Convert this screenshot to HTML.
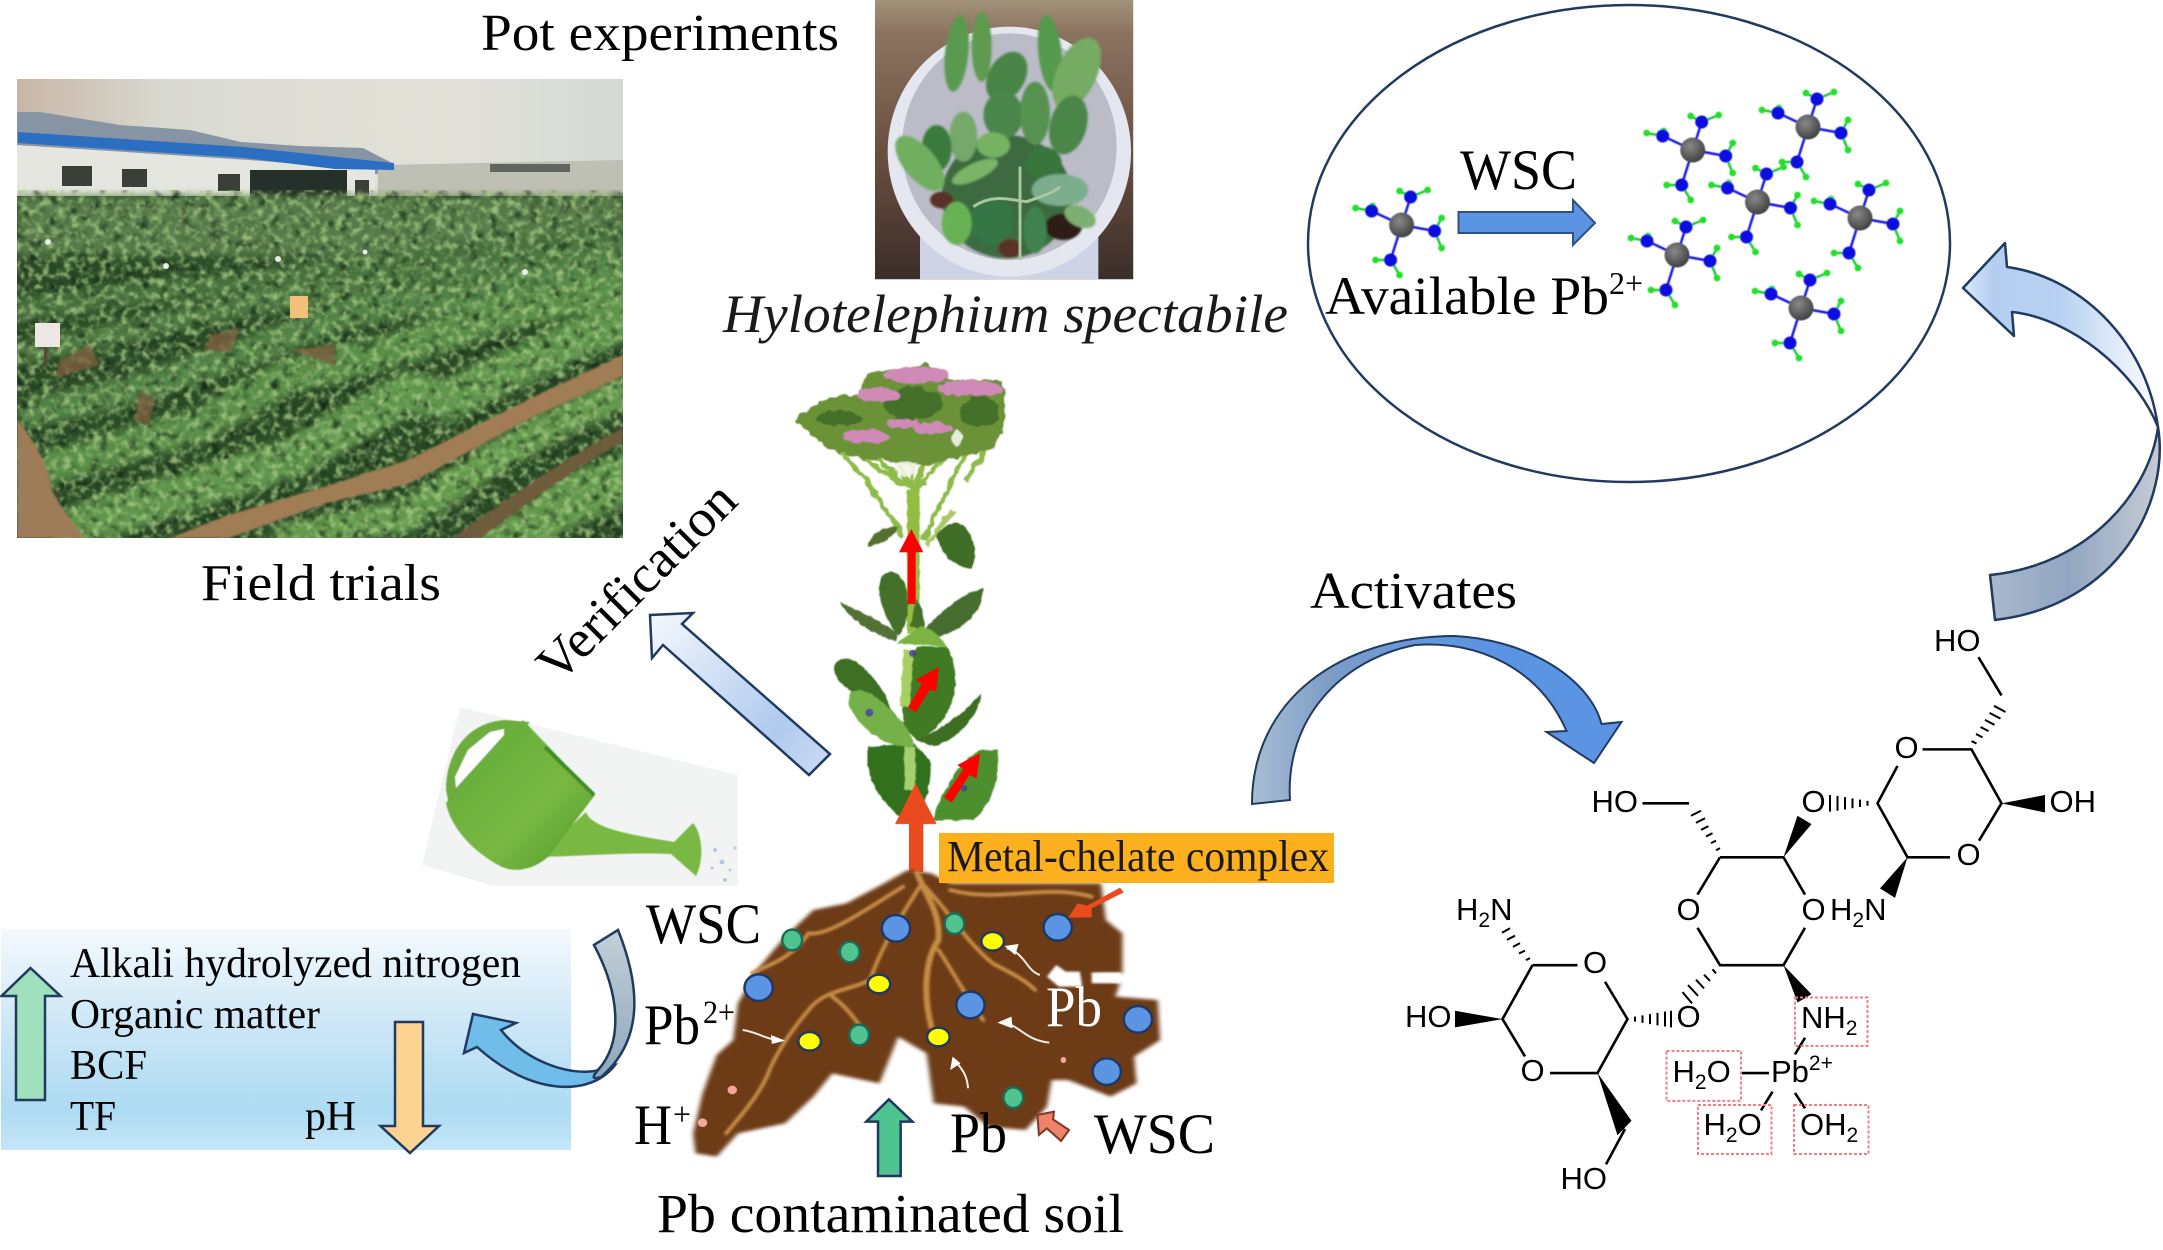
<!DOCTYPE html>
<html><head><meta charset="utf-8"><style>
html,body{margin:0;padding:0;background:#fff}
svg{display:block}
text{font-family:"Liberation Serif",serif;fill:#000}
.m text,text.m{font-family:"Liberation Sans",sans-serif;font-size:31px}
.n *{vector-effect:non-scaling-stroke}
</style></head><body>
<svg width="2163" height="1250" viewBox="0 0 2163 1250" xmlns="http://www.w3.org/2000/svg">
<defs>
<filter id="nl" filterUnits="userSpaceOnUse" x="17" y="190" width="606" height="348" color-interpolation-filters="sRGB">
<feTurbulence type="fractalNoise" baseFrequency="0.14" numOctaves="3" seed="7"/>
<feColorMatrix values="0 0 0 0 .66  0 0 0 0 .8  0 0 0 0 .52  3.2 0 0 0 -1.45"/>
<feGaussianBlur stdDeviation=".7"/>
</filter>
<filter id="nd" filterUnits="userSpaceOnUse" x="17" y="190" width="606" height="348" color-interpolation-filters="sRGB">
<feTurbulence type="fractalNoise" baseFrequency="0.1" numOctaves="2" seed="21"/>
<feColorMatrix values="0 0 0 0 .05  0 0 0 0 .12  0 0 0 0 .06  -3.2 0 0 0 1.5"/>
<feGaussianBlur stdDeviation="1"/>
</filter>
<filter id="rows" filterUnits="userSpaceOnUse" x="0" y="170" width="640" height="380"><feGaussianBlur stdDeviation="4"/></filter>
<filter id="b05"><feGaussianBlur stdDeviation=".45"/></filter>
<filter id="b1"><feGaussianBlur stdDeviation="1"/></filter>
<filter id="b2"><feGaussianBlur stdDeviation="5"/></filter>
<filter id="b3"><feGaussianBlur stdDeviation="3"/></filter>
<filter id="rough" x="-5%" y="-5%" width="110%" height="110%">
<feTurbulence type="fractalNoise" baseFrequency="0.035" numOctaves="2" seed="3" result="t"/>
<feDisplacementMap in="SourceGraphic" in2="t" scale="22" xChannelSelector="R" yChannelSelector="G"/>
<feGaussianBlur stdDeviation="1.8"/>
</filter>
<filter id="rough2" x="-5%" y="-5%" width="110%" height="110%">
<feTurbulence type="fractalNoise" baseFrequency="0.05" numOctaves="2" seed="9" result="t"/>
<feDisplacementMap in="SourceGraphic" in2="t" scale="9" xChannelSelector="R" yChannelSelector="G"/>
<feGaussianBlur stdDeviation="1.2"/>
</filter>
<linearGradient id="sky" x1="0" x2="1" y1="0" y2="0"><stop offset="0" stop-color="#c7b6a6"/><stop offset=".25" stop-color="#d9dad2"/><stop offset=".7" stop-color="#e2e1d8"/><stop offset="1" stop-color="#d5d9d6"/></linearGradient>
<linearGradient id="box" x1="0" x2="0" y1="0" y2="1"><stop offset="0" stop-color="#f4f9fd"/><stop offset=".45" stop-color="#cbe6f6"/><stop offset=".82" stop-color="#addbf3"/><stop offset="1" stop-color="#c6e6f7"/></linearGradient>
<linearGradient id="ver" x1="650" y1="615" x2="820" y2="765" gradientUnits="userSpaceOnUse"><stop offset="0" stop-color="#f4f8fe"/><stop offset=".75" stop-color="#b0caee"/><stop offset="1" stop-color="#c6d9f3"/></linearGradient>
<linearGradient id="u1" x1="1963" x2="2160" y1="0" y2="0" gradientUnits="userSpaceOnUse"><stop offset="0" stop-color="#dce8f8"/><stop offset=".15" stop-color="#b4cef2"/><stop offset=".5" stop-color="#b8d1f2"/><stop offset="1" stop-color="#ffffff"/></linearGradient>
<linearGradient id="u2" x1="2163" y1="0" x2="1990" y2="0" gradientUnits="userSpaceOnUse"><stop offset="0" stop-color="#c8ccd4"/><stop offset=".55" stop-color="#91a6c2"/><stop offset="1" stop-color="#a9b8cc"/></linearGradient>
<linearGradient id="act" x1="1252" x2="1480" y1="0" y2="0" gradientUnits="userSpaceOnUse"><stop offset="0" stop-color="#a9bdd3"/><stop offset=".35" stop-color="#7b9cc7"/><stop offset="1" stop-color="#5b94e3"/></linearGradient>
<linearGradient id="gr1" x1="0" x2="0" y1="930" y2="1075" gradientUnits="userSpaceOnUse"><stop offset="0" stop-color="#c4cfd8"/><stop offset="1" stop-color="#8ea9bc"/></linearGradient>
<radialGradient id="ball" cx=".4" cy=".35" r=".7"><stop offset="0" stop-color="#8a8a8a"/><stop offset="1" stop-color="#3c3c3c"/></radialGradient>
<linearGradient id="can" x1="0" x2="1" y1="0" y2="1"><stop offset="0" stop-color="#5da838"/><stop offset=".6" stop-color="#79b842"/><stop offset="1" stop-color="#4f9a2c"/></linearGradient>
<linearGradient id="pot" x1="0" x2="0" y1="0" y2="1"><stop offset="0" stop-color="#a3927a"/><stop offset=".12" stop-color="#8c7360"/><stop offset=".55" stop-color="#6a4f40"/><stop offset="1" stop-color="#3a2e2a"/></linearGradient>
<clipPath id="fc"><rect x="17" y="79" width="606" height="459"/></clipPath>
<clipPath id="pc"><rect x="45" y="0" width="775" height="838"/></clipPath>
<g id="mol" filter="url(#b05)">
<g stroke="#1a1ae0" stroke-width="2.500" fill="none">
<path d="M0,0L9,-28M0,0L-30,-14M0,0L33,6M0,0L-11,35"/>
<path d="M9,-28L-2,-34M9,-28L26,-35M-30,-14L-46,-17M-30,-14L-29,-18M33,6L40,-7M33,6L40,23M-11,35L-26,35M-11,35L-2,50" stroke="#22cc33"/>
</g>
<g fill="#24e02a"><circle cx="-2" cy="-34" r="3.400"/><circle cx="26" cy="-35" r="3.400"/><circle cx="-46" cy="-17" r="3.400"/><circle cx="-29" cy="-19" r="3.400"/><circle cx="40" cy="-7" r="3.400"/><circle cx="40" cy="23" r="3.400"/><circle cx="-26" cy="35" r="3.400"/><circle cx="-2" cy="50" r="3.400"/></g>
<g fill="#1010e0"><circle cx="9" cy="-28" r="6.500"/><circle cx="-30" cy="-14" r="6.500"/><circle cx="33" cy="6" r="6.500"/><circle cx="-11" cy="35" r="6.500"/></g>
<circle r="12.500" fill="url(#ball)"/>
</g>
</defs>
<rect width="2163" height="1250" fill="#fff"/>

<!-- Field photo -->
<g clip-path="url(#fc)">
<rect x="17" y="79" width="606" height="130" fill="url(#sky)"/>
<polygon points="17,112 40,112 120,125 190,130 241,142 300,146 363,148 392,163 392,175 17,150" fill="#8794a4"/>
<polygon points="378,165 623,160 623,205 378,200" fill="#bfc0b4"/>
<rect x="490" y="164" width="80" height="8" fill="#62645e"/>
<polygon points="17,145 249,160 375,170 375,199 17,196" fill="#e6e6e0"/>
<polygon points="18,132 245,147 394,163 394,170 335,169 245,158 18,143" fill="#2c6fc2"/>
<rect x="250" y="170" width="97" height="28" fill="#26302a"/>
<g fill="#3a4038"><rect x="62" y="166" width="30" height="20"/><rect x="122" y="169" width="25" height="18"/><rect x="218" y="174" width="22" height="17"/><rect x="355" y="180" width="14" height="16"/></g>
<rect x="17" y="196" width="606" height="342" fill="#2a4a26"/>
<g filter="url(#rows)" fill="none" stroke-linecap="round">
<rect x="17" y="196" width="606" height="60" fill="#567a48"/>
<path d="M18,310C150,290 400,265 623,235" stroke="#47703c" stroke-width="24"/>
<path d="M18,353L102,337L204,313L327,290L623,247" stroke="#4d7842" stroke-width="23"/>
<path d="M31,413L122,393L245,353L347,313L449,300L623,267" stroke="#538346" stroke-width="28"/>
<path d="M49,467L196,427L286,377L408,347L490,317L623,287" stroke="#5a8e4a" stroke-width="34"/>
<path d="M73,527L286,460L408,393L449,400L531,360L623,320" stroke="#60954e" stroke-width="40"/>
<path d="M286,540L408,515L490,460L571,415L623,395" stroke="#64994e" stroke-width="32"/>
<path d="M490,560L560,505L623,478" stroke="#64994e" stroke-width="50"/>
</g>
<rect x="17" y="196" width="606" height="342" fill="#000" filter="url(#nd)" opacity=".8"/>
<rect x="17" y="196" width="606" height="342" fill="#000" filter="url(#nl)" opacity=".8"/>
<g filter="url(#b1)">
<path d="M623,355V376L531,418L408,484L327,503L229,538H170L229,515L327,486L408,460L531,398Z" fill="#a07d55"/>
<path d="M623,428V442C570,470 520,510 480,538H452C500,505 560,460 623,428Z" fill="#6e5c3c"/>
<path d="M17,420C35,440 50,470 52,490C62,510 75,525 85,538H17Z" fill="#9e7c58"/>
<path d="M210,335L240,328L230,352L205,350ZM60,360L90,345L100,365L55,378ZM140,390L155,400L148,425L135,420ZM290,350L335,345 335,365Z" fill="#7c5f3e" opacity=".8"/>
</g>
<rect x="290" y="296" width="18" height="22" fill="#f2c078"/>
<rect x="35" y="323" width="25" height="24" fill="#efe6e6"/><rect x="44" y="347" width="3" height="20" fill="#5c4a36"/>
<g fill="#e8eee8"><circle cx="48" cy="242" r="3"/><circle cx="166" cy="266" r="3"/><circle cx="278" cy="259" r="3"/><circle cx="525" cy="272" r="3"/><circle cx="365" cy="252" r="2.500"/></g>
</g>

<!-- Pot photo -->
<g transform="translate(860,0) scale(.33333)">
<g clip-path="url(#pc)">
<rect x="45" y="0" width="775" height="838" fill="url(#pot)"/>
<rect x="180" y="700" width="535" height="138" fill="#cfd3e6"/>
<ellipse cx="448" cy="455" rx="365" ry="375" fill="#e4e6f0"/>
<ellipse cx="448" cy="440" rx="322" ry="340" fill="#bbbcc8"/>
<g filter="url(#b3)">
<ellipse cx="440" cy="590" rx="195" ry="185" fill="#3c6a40"/>
<ellipse cx="245" cy="600" rx="35" ry="25" fill="#5a3025"/>
<ellipse cx="450" cy="745" rx="35" ry="28" fill="#5a3025"/>
<ellipse cx="610" cy="680" rx="55" ry="40" fill="#2e1c18"/>
<ellipse cx="290" cy="160" rx="35" ry="115" transform="rotate(6 290 160)" fill="#5a9a50"/>
<ellipse cx="365" cy="140" rx="30" ry="105" fill="#5f9a50"/>
<ellipse cx="570" cy="160" rx="35" ry="115" transform="rotate(-6 570 160)" fill="#559a4e"/>
<ellipse cx="650" cy="220" rx="60" ry="115" transform="rotate(25 650 220)" fill="#74ab62"/>
<ellipse cx="440" cy="230" rx="55" ry="80" transform="rotate(30 440 230)" fill="#4a8546"/>
<ellipse cx="430" cy="345" rx="60" ry="70" fill="#4c864c"/>
<ellipse cx="525" cy="340" rx="45" ry="95" fill="#569250"/>
<ellipse cx="625" cy="375" rx="55" ry="90" transform="rotate(15 625 375)" fill="#4a8646"/>
<ellipse cx="310" cy="410" rx="42" ry="75" fill="#75a86a"/>
<ellipse cx="230" cy="445" rx="45" ry="70" fill="#3a7a3c"/>
<ellipse cx="400" cy="435" rx="50" ry="38" fill="#74b262"/>
<ellipse cx="180" cy="490" rx="100" ry="48" transform="rotate(50 180 490)" fill="#6fae60"/>
<ellipse cx="550" cy="490" rx="55" ry="50" fill="#38763e"/>
<ellipse cx="345" cy="515" rx="75" ry="25" transform="rotate(-25 345 515)" fill="#7ab468"/>
<ellipse cx="600" cy="570" rx="85" ry="48" fill="#7cad8c"/>
<ellipse cx="395" cy="660" rx="65" ry="75" fill="#357646"/>
<ellipse cx="290" cy="670" rx="45" ry="65" fill="#68b256"/>
<ellipse cx="525" cy="690" rx="35" ry="70" fill="#408250"/>
<ellipse cx="660" cy="650" rx="50" ry="30" transform="rotate(25 660 650)" fill="#7cb072"/>
</g>
<path d="M480,780V500M340,620C400,580 450,600 500,605C540,590 580,580 600,560" fill="none" stroke="#a9c8a0" stroke-width="9"/>
</g></g>

<!-- Top text -->
<text x="481" y="50" font-size="52" textLength="358" lengthAdjust="spacingAndGlyphs">Pot experiments</text>
<text x="723" y="332" font-size="54" font-style="italic" textLength="565" lengthAdjust="spacingAndGlyphs" style="fill:#1a1a1a">Hylotelephium spectabile</text>
<text x="201" y="600" font-size="52" textLength="240" lengthAdjust="spacingAndGlyphs">Field trials</text>
<text transform="translate(558,685) rotate(-45)" font-size="53" textLength="257" lengthAdjust="spacingAndGlyphs">Verification</text>
<text x="1310" y="608" font-size="52" textLength="207" lengthAdjust="spacingAndGlyphs">Activates</text>

<!-- Circle -->
<ellipse cx="1629" cy="243.500" rx="321" ry="238.500" fill="#fff" stroke="#203a60" stroke-width="2.500"/>
<use href="#mol" x="1401.600" y="225"/><use href="#mol" x="1692.700" y="150"/><use href="#mol" x="1808" y="127"/><use href="#mol" x="1757.500" y="202"/><use href="#mol" x="1860" y="218"/><use href="#mol" x="1677" y="255"/><use href="#mol" x="1801" y="308"/>
<polygon points="1458.500,212 1573,212 1573,200 1595,223 1573,245 1573,233 1458.500,233" fill="#5b94e3" stroke="#2d5183" stroke-width="2"/>
<text x="1460" y="189" font-size="57" textLength="117" lengthAdjust="spacingAndGlyphs">WSC</text>
<text x="1325" y="314" font-size="54" textLength="284" lengthAdjust="spacingAndGlyphs">Available Pb</text>
<text x="1609" y="294" font-size="32" textLength="34" lengthAdjust="spacingAndGlyphs">2+</text>

<!-- Right curved arrow -->
<path d="M2158,427C2170,500 2120,605 1995,620L1990,575C2090,565 2150,490 2158,427Z" fill="url(#u2)" stroke="#203a60" stroke-width="2.500" stroke-linejoin="round"/>
<path d="M2007,267L2005,243L1963,288L2014,336L2012,312C2070,318 2135,370 2158,427C2145,335 2075,276 2007,267Z" fill="url(#u1)" stroke="#203a60" stroke-width="2.500" stroke-linejoin="round"/>

<!-- Activates arrow -->
<path d="M1252,804C1252,700 1340,636 1455,636C1530,640 1590,680 1601.500,724L1621.500,722L1594,763L1546.500,732L1566.500,731C1540,670 1480,640 1415,645C1340,660 1285,720 1290,800Z" fill="url(#act)" stroke="#203a60" stroke-width="2"/>

<!-- Molecule bonds -->
<g class="n" transform="translate(1380,600) scale(.5,.41494)" fill="none" stroke="#000" stroke-width="2.600">
<path d="M1085,360H1183L1243,490L1198,580M1140,620H1055L995,490L1035,400M1243,230L1197,138"/>
<path d="M680,620H807L850,710M850,790L807,880H680L635,790M635,710L680,620M525,490H618"/>
<path d="M305,880H395M450,920L495,1010L435,1140H340M290,1100L245,1010L305,880M490,1275L452,1360"/>
<path d="M850,1055L830,1095M720,1140H778M785,1185L762,1230M830,1188L850,1225"/>
<g stroke-width="2">
<path d="M1183,340L1193,346M1192,323L1205,331M1201,306L1217,316M1210,289L1229,301M1219,272L1241,286M1228,255L1251,270"/>
<path d="M975,484V496M960,481V499M945,478V502M930,475V505M915,472V508M900,470V510"/>
<path d="M672,603L680,598M662,586L672,580M652,570L665,562M642,554L657,545M632,537L650,526M622,520L642,508"/>
<path d="M672,900L665,890M660,918L648,903M648,936L632,915M636,954L616,928M624,972L605,945"/>
<path d="M510,1004V1016M525,1001V1019M540,998V1022M555,995V1025M570,992V1028M582,990V1030"/>
<path d="M300,863L292,868M290,845L278,852M280,827L266,836M270,809L254,819M260,791L244,802"/>
</g>
<g fill="#000" stroke="none">
<polygon points="1243,490 1330,470 1330,512"/><polygon points="1055,620 1000,695 1030,718"/><polygon points="807,620 835,520 863,540"/><polygon points="807,880 835,970 863,950"/><polygon points="245,1010 150,990 150,1030"/><polygon points="435,1140 475,1290 503,1255"/>
</g>
<g stroke="#f07f85" stroke-width="2" stroke-dasharray="3 2">
<rect x="830" y="958" width="145" height="117"/><rect x="573" y="1087" width="149" height="120"/><rect x="636" y="1217" width="147" height="118"/><rect x="828" y="1217" width="149" height="118"/>
</g>
</g>
<g class="m">
<text x="1934" y="651">HO</text>
<text x="1906.500" y="758" text-anchor="middle">O</text>
<text x="2049.500" y="812">OH</text>
<text x="1591.500" y="812">HO</text>
<text x="1813.500" y="812" text-anchor="middle">O</text>
<text x="1968.500" y="865" text-anchor="middle">O</text>
<text x="1688.500" y="920" text-anchor="middle">O</text>
<text x="1813.500" y="920" text-anchor="middle">O</text>
<text x="1830" y="920">H<tspan font-size="21" dy="7">2</tspan><tspan dy="-7">N</tspan></text>
<text x="1456" y="920">H<tspan font-size="21" dy="7">2</tspan><tspan dy="-7">N</tspan></text>
<text x="1595" y="973" text-anchor="middle">O</text>
<text x="1405" y="1027">HO</text>
<text x="1688.500" y="1027" text-anchor="middle">O</text>
<text x="1532.500" y="1081" text-anchor="middle">O</text>
<text x="1560.500" y="1189">HO</text>
<text x="1801" y="1028">NH<tspan font-size="21" dy="7">2</tspan></text>
<text x="1771" y="1082">Pb<tspan font-size="21" dy="-12">2+</tspan></text>
<text x="1672.500" y="1082">H<tspan font-size="21" dy="7">2</tspan><tspan dy="-7">O</tspan></text>
<text x="1703.500" y="1135">H<tspan font-size="21" dy="7">2</tspan><tspan dy="-7">O</tspan></text>
<text x="1800" y="1135">OH<tspan font-size="21" dy="7">2</tspan></text>
</g>

<!-- Blue box -->
<rect x="1" y="929" width="570" height="221" fill="url(#box)"/>
<text x="70" y="977" font-size="42" textLength="451" lengthAdjust="spacingAndGlyphs">Alkali hydrolyzed nitrogen</text>
<text x="70" y="1028" font-size="42" textLength="250" lengthAdjust="spacingAndGlyphs">Organic matter</text>
<text x="70" y="1079" font-size="42" textLength="77" lengthAdjust="spacingAndGlyphs">BCF</text>
<text x="70" y="1130" font-size="42" textLength="46" lengthAdjust="spacingAndGlyphs">TF</text>
<text x="305" y="1130" font-size="42" textLength="51" lengthAdjust="spacingAndGlyphs">pH</text>
<polygon points="30.500,968 60.500,996 45,996 45,1100 16,1100 16,996 1.500,996" fill="#9fe0bd" stroke="#203a60" stroke-width="2.500"/>
<polygon points="395,1022 423,1022 423,1126 439,1126 410,1153 380.500,1126 395,1126" fill="#fdd391" stroke="#203a60" stroke-width="2.500"/>
<path d="M477,1047L464,1053L473,1014L516,1023L501,1030C525,1060 565,1075 595,1071L615,1065C590,1098 530,1095 477,1047Z" fill="#70bdea" stroke="#203a60" stroke-width="2.500"/>
<path d="M618,930C640,985 645,1040 600,1078C606,1074 585,1085 598,1070C625,1040 618,990 594,945Z" fill="url(#gr1)" stroke="#203a60" stroke-width="2.500"/>

<!-- Watering can -->
<polygon points="460,707 738,775 738,886 494,886 422,865" fill="#f2f3f3"/>
<g fill="#9db6dc" opacity=".7"><circle cx="715" cy="850" r="2"/><circle cx="722" cy="862" r="2.500"/><circle cx="712" cy="868" r="1.500"/><circle cx="730" cy="870" r="1.500"/><circle cx="725" cy="880" r="2"/><circle cx="735" cy="848" r="1.500"/></g>
<g filter="url(#b05)">
<path d="M586,812C592,830 640,836 674,842L693,823C703,835 704,860 696,876L671,854C630,852 585,856 538,857Z" fill="#79b842"/>
<path d="M505,720C470,722 446,750 446,790L450,810L470,790L530,722Z" fill="#6cad3e"/>
<path d="M523,720L595,795L548,857C530,872 512,872 500,866C470,850 450,825 446,803L458,789Z" fill="url(#can)"/>
<path d="M545,747L594,795" stroke="#3f8d27" stroke-width="4" fill="none"/>
<path d="M504,729L490,732L468,750L455,777L456,788L504,735Z" fill="#fff"/>
</g>

<!-- Plant -->
<g transform="translate(760,350) scale(.33333)">
<g filter="url(#rough)">
<g fill="none" stroke="#8fbb4a" stroke-width="14">
<path d="M460,425L230,270M460,425L300,280M460,425L380,280M460,425L450,270M460,425L520,280M460,425L590,280M430,560L310,380L220,280"/>
<path d="M490,570L620,300" stroke-width="15"/><path d="M620,390L700,260" stroke-width="16"/><path d="M495,590L580,480" stroke="#aac868" stroke-width="16"/>
</g>
<path d="M100,210L180,150L300,130L320,70L500,40L570,90L730,90L735,230L700,300L600,320L520,345L440,345L360,325L300,325L210,300Z" fill="#6c9238"/>
<g fill="#3e6a2a" opacity=".85"><ellipse cx="460" cy="160" rx="90" ry="50"/><ellipse cx="240" cy="205" rx="70" ry="22"/><ellipse cx="660" cy="185" rx="60" ry="45"/></g>
<g fill="#cf8ab8"><ellipse cx="470" cy="75" rx="100" ry="26"/><ellipse cx="355" cy="135" rx="65" ry="22"/><ellipse cx="630" cy="115" rx="100" ry="24"/><ellipse cx="320" cy="260" rx="70" ry="20"/><ellipse cx="430" cy="220" rx="50" ry="15"/><ellipse cx="520" cy="235" rx="60" ry="15"/></g>
<g fill="#f4f6ec" opacity=".9"><ellipse cx="440" cy="355" rx="40" ry="22"/><ellipse cx="590" cy="265" rx="14" ry="24"/></g>
</g>
<g filter="url(#rough2)">
<path d="M460,420V850" stroke="#90bd42" stroke-width="38"/>
<path d="M320,590Q340,530 415,530Q390,580 320,590Z" fill="#526f2e"/>
<path d="M530,560C545,525 580,510 610,525C650,570 650,620 635,655C575,650 545,610 530,560Z" fill="#3f6d25"/>
<path d="M415,860C370,800 345,730 365,680C385,650 430,670 440,720C450,780 440,830 415,860Z" fill="#44702a"/>
<path d="M410,875C330,850 270,810 240,755C310,790 380,820 410,850Z" fill="#526f34"/>
<path d="M500,830C560,770 610,730 670,715L660,770C620,830 560,860 510,865Z" fill="#466d2f"/>
<path d="M470,745C490,790 495,810 495,840L450,830Z" fill="#44702a"/>
<path d="M430,1130C420,1000 440,930 470,890L560,890C600,960 590,1040 560,1090C530,1140 500,1160 470,1170Z" fill="#3f7a22"/>
<path d="M445,900L435,1070" stroke="#a6d060" stroke-width="30"/>
<path d="M410,880C440,860 470,830 490,830C520,840 550,870 560,890Z" fill="#7cb342"/>
<path d="M395,1085C310,1050 230,1010 222,960C222,925 265,915 300,945C350,985 385,1040 395,1085Z" fill="#3c7020"/>
<path d="M470,1170C560,1130 620,1080 665,1030C650,1110 590,1170 520,1190Z" fill="#3c6e24"/>
<path d="M420,1400C350,1340 310,1270 325,1190L460,1180L510,1230C520,1300 490,1370 470,1400Z" fill="#33701e"/>
<path d="M460,1190C380,1200 290,1130 265,1060C260,1020 300,1010 330,1030C380,1060 440,1120 460,1170Z" fill="#76b04a"/>
<path d="M520,1410C540,1330 600,1230 660,1200L712,1200C725,1280 690,1370 640,1410Z" fill="#4d8f2f"/>
<path d="M450,1190V1320" stroke="#a5d06e" stroke-width="32"/>
</g>
<g fill="#4a3aa8" opacity=".75"><circle cx="458" cy="910" r="11"/><circle cx="328" cy="1088" r="12"/><circle cx="612" cy="1315" r="10"/></g>
<polygon points="443,762 467,762 467,607 490,607 454,537 417,607 443,607" fill="#f00"/>
<polygon points="444,1072 467,1087 510,1018 528,1025 537,950 467,990 486,1002" fill="#f00"/>
<polygon points="552,1342 575,1358 628,1275 650,1285 660,1210 592,1245 610,1258" fill="#f00"/>
<polygon points="447,1566 490,1566 490,1422 530,1422 467,1300 405,1422 447,1422" fill="#e94b1e"/>
</g>

<!-- Soil -->
<g class="n" transform="translate(620,840) scale(.47170,.33333)">
<polygon filter="url(#b2)" points="160,940 155,880 175,760 205,645 240,600 250,490 290,390 350,290 410,210 480,190 560,130 610,90 660,100 700,130 1020,130 1030,240 1065,280 1065,400 1000,400 1060,430 1050,470 1140,480 1145,600 1090,650 1095,730 1040,770 950,720 915,720 905,800 860,870 780,860 730,800 665,790 650,640 590,590 570,660 550,730 450,700 410,770 350,850 250,880 205,950" fill="#6d3a15"/>
<g fill="none" stroke="#c68c45" stroke-width="4" stroke-linecap="round" filter="url(#b3)">
<path d="M630,100C650,170 680,220 675,300C650,350 640,450 660,560" stroke-width="6"/>
<path d="M675,330C700,380 720,440 770,540"/>
<path d="M640,130C690,200 730,300 790,370C830,400 860,420 880,450"/>
<path d="M700,150C800,190 900,130 1000,170"/>
<path d="M640,130C600,220 560,300 530,420C490,450 430,450 400,510C370,560 340,620 320,680C300,760 260,820 225,880"/>
<path d="M450,470C480,500 500,540 520,580"/>
<path d="M600,140C520,210 440,290 400,280C360,360 320,370 280,400"/>
</g>
<g fill="none" stroke="#f0ece4" stroke-width="2">
<path d="M910,608C860,600 850,560 815,548"/><path d="M260,570C290,575 310,600 345,602"/><path d="M710,660C725,690 735,700 738,745"/><path d="M820,325C860,340 860,390 890,405"/>
</g>
<g fill="#fff"><polygon points="800,548 830,530 832,565"/><polygon points="350,602 320,585 322,612"/><polygon points="705,650 722,670 700,690"/><polygon points="815,318 845,312 838,345"/><polygon filter="url(#b3)" points="905,410 925,375 945,395 975,395 980,440 930,440"/><rect x="1000" y="398" width="62" height="32" filter="url(#b3)"/></g>
<g stroke="#1f3864" stroke-width="2.500">
<g fill="#5b94e3"><ellipse cx="585" cy="265" rx="30" ry="40"/><ellipse cx="928" cy="262" rx="30" ry="40"/><ellipse cx="294" cy="443" rx="30" ry="40"/><ellipse cx="743" cy="495" rx="30" ry="40"/><ellipse cx="1098" cy="538" rx="30" ry="40"/><ellipse cx="1032" cy="695" rx="30" ry="40"/></g>
<g fill="#4fc490" stroke="#1d6b54"><ellipse cx="365" cy="300" rx="21" ry="31"/><ellipse cx="487" cy="336" rx="21" ry="31"/><ellipse cx="709" cy="251" rx="21" ry="31"/><ellipse cx="507" cy="585" rx="21" ry="31"/><ellipse cx="834" cy="773" rx="21" ry="31"/></g>
<g fill="#ffff00"><ellipse cx="790" cy="304" rx="24" ry="28"/><ellipse cx="549" cy="432" rx="24" ry="28"/><ellipse cx="402" cy="604" rx="24" ry="28"/><ellipse cx="675" cy="591" rx="24" ry="28"/></g>
</g>
<g fill="#f4a79a"><ellipse cx="238" cy="750" rx="10" ry="13"/><ellipse cx="175" cy="848" rx="10" ry="13"/><ellipse cx="940" cy="660" rx="6" ry="9"/></g>
<polygon points="1060,143 1068,157 1000,205 1000,232 950,233 970,190 990,197" fill="#e94b1e"/>
<polygon points="920,815 885,825 888,885 905,865 935,903 952,870 918,838" fill="#f0826a" stroke="#7a3a2a" stroke-width="2"/>
<polygon points="570,778 620,845 595,845 595,1008 547,1008 547,845 522,845" fill="#4fc490" stroke="#1f3864" stroke-width="2.500"/>
</g>

<rect x="939" y="833" width="395" height="50" fill="#fdb01e"/>
<text x="947" y="871" font-size="44" textLength="382" lengthAdjust="spacingAndGlyphs" style="fill:#1a1a1a">Metal-chelate complex</text>
<text x="646" y="943" font-size="57" textLength="115" lengthAdjust="spacingAndGlyphs">WSC</text>
<text x="644" y="1044" font-size="57" textLength="56" lengthAdjust="spacingAndGlyphs">Pb</text>
<text x="703" y="1023" font-size="33" textLength="32" lengthAdjust="spacingAndGlyphs">2+</text>
<text x="634" y="1144" font-size="57" textLength="38" lengthAdjust="spacingAndGlyphs">H</text>
<text x="673" y="1125" font-size="33" textLength="18" lengthAdjust="spacingAndGlyphs">+</text>
<text x="1046" y="1026" font-size="57" textLength="56" lengthAdjust="spacingAndGlyphs" style="fill:#fff">Pb</text>
<text x="950" y="1152" font-size="57" textLength="57" lengthAdjust="spacingAndGlyphs">Pb</text>
<text x="1094" y="1153" font-size="57" textLength="121" lengthAdjust="spacingAndGlyphs">WSC</text>
<text x="657" y="1232" font-size="55" textLength="467" lengthAdjust="spacingAndGlyphs">Pb contaminated soil</text>

<!-- Verification arrow -->
<polygon points="650,615 693,613 682,624 830,754 809,775 663,645 652,658" fill="url(#ver)" stroke="#203a60" stroke-width="2.500"/>
</svg>
</body></html>
